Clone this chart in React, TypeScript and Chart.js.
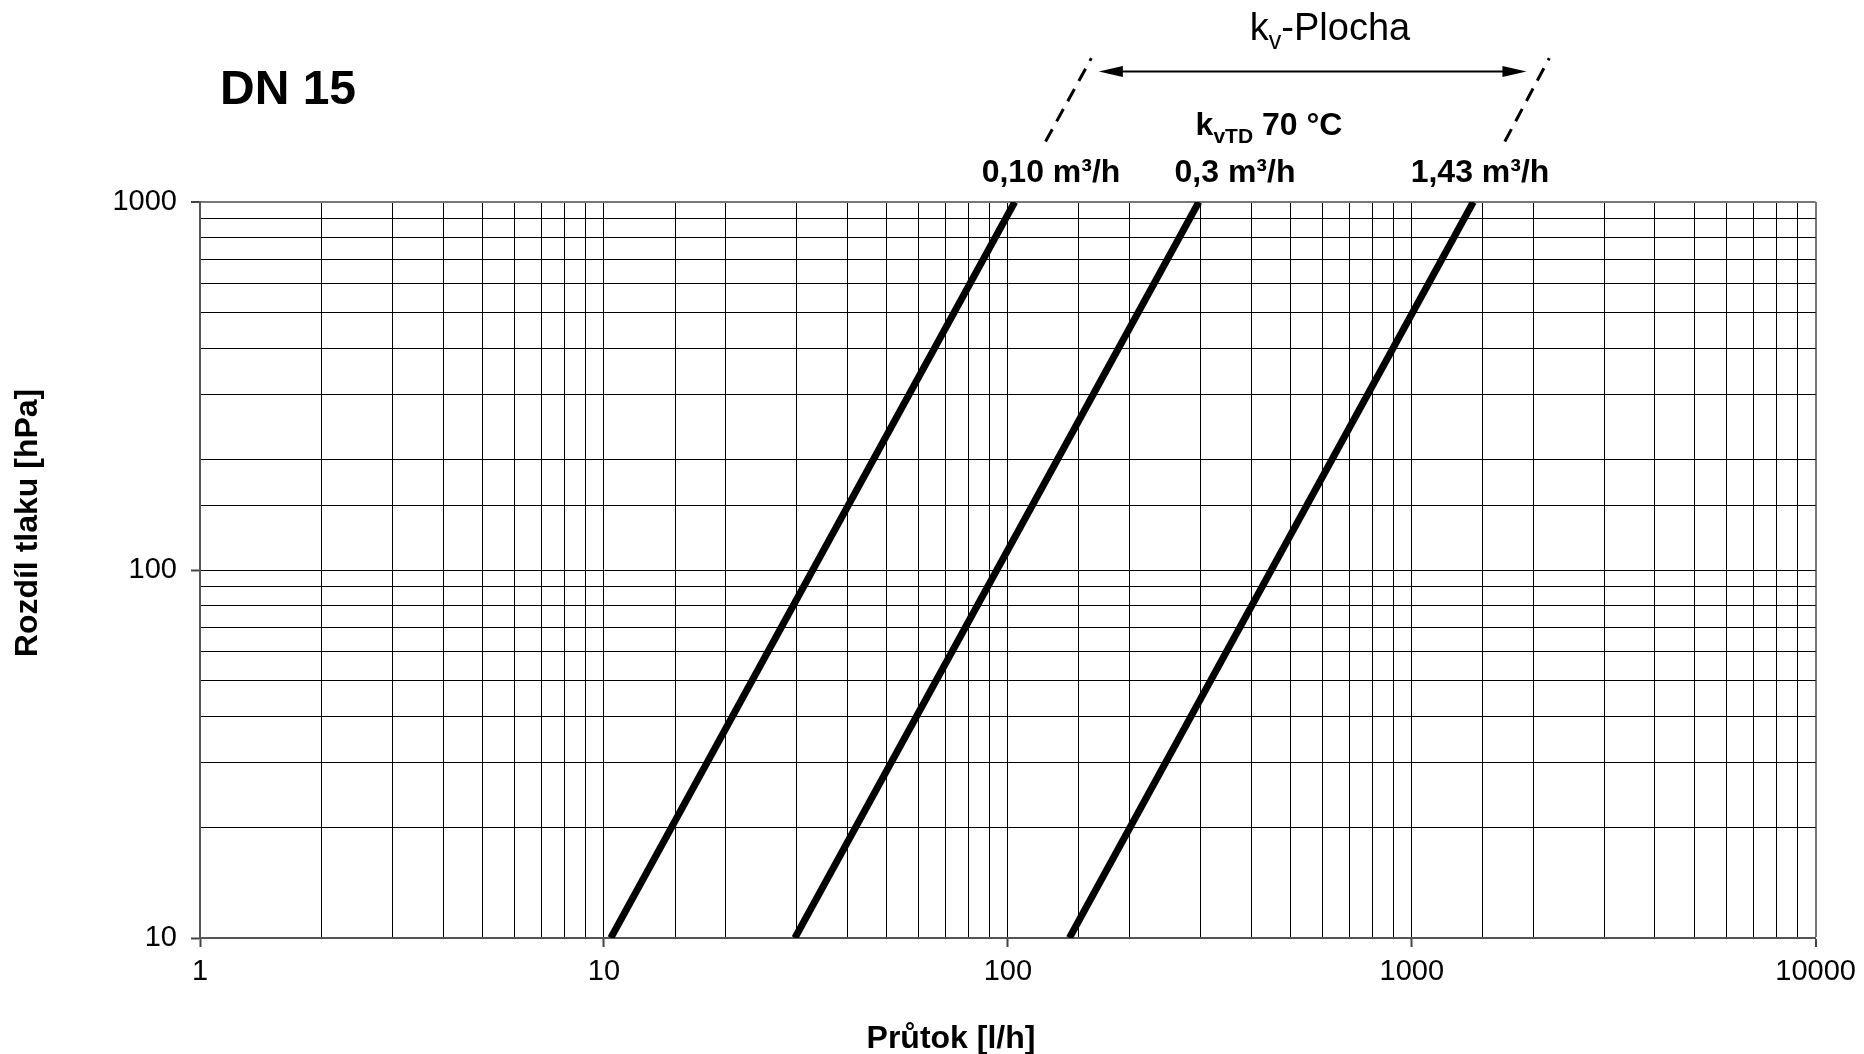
import React, { useEffect, useRef } from 'react';
import { Chart, registerables } from 'chart.js';

Chart.register(...registerables);

// ---- data ----
const pressureHPa = [10, 1000];
const flowKv010 = [10.4, 104];
const flowKv03 = [29.7, 297];
const flowKv143 = [142, 1420];
const extPressure = [1460, 2460];
const extFlowKv010 = [124, 161];
const extFlowKv143 = [1700, 2190];
const rangeArrowPressure = 2272;
const rangeArrowFlow = [168, 1923];
const kvLabels = ['0,10 m³/h', '0,3 m³/h', '1,43 m³/h'];
const xRange = [1, 10000];
const yRange = [10, 1000];
const titleText = 'DN 15';
const xTitle = 'Průtok [l/h]';
const yTitle = 'Rozdíl tlaku [hPa]';

const FONT = '"Liberation Sans", Arial, sans-serif';

const isPow10 = (v: number) => {
  const l = Math.log10(v);
  return Math.abs(l - Math.round(l)) < 1e-9;
};

const pts = (xs: number[], ys: number[]) => xs.map((x, i) => ({ x, y: ys[i] }));

type Part = { t: string; sub?: boolean };

function drawRich(ctx: CanvasRenderingContext2D, parts: Part[], cx: number, base: number, size: number, weight: string) {
  const subSize = Math.round(size * 0.66);
  const widths = parts.map((p) => {
    ctx.font = `${weight} ${p.sub ? subSize : size}px ${FONT}`;
    return ctx.measureText(p.t).width;
  });
  const total = widths.reduce((a, b) => a + b, 0);
  let xx = cx - total / 2;
  ctx.textAlign = 'left';
  ctx.textBaseline = 'alphabetic';
  parts.forEach((p, i) => {
    ctx.font = `${weight} ${p.sub ? subSize : size}px ${FONT}`;
    ctx.fillText(p.t, xx, base + (p.sub ? size * 0.24 : 0));
    xx += widths[i];
  });
}

const annotPlugin = {
  id: 'annot',
  afterDraw(chart: any) {
    const ctx: CanvasRenderingContext2D = chart.ctx;
    const xs = chart.scales.x;
    const ys = chart.scales.y;
    ctx.save();
    ctx.fillStyle = '#000';
    ctx.strokeStyle = '#000';

    // Title
    ctx.font = `bold 48px ${FONT}`;
    ctx.textAlign = 'left';
    ctx.textBaseline = 'alphabetic';
    ctx.fillText(titleText, 220, 104);

    // Axis titles
    ctx.font = `bold 32px ${FONT}`;
    ctx.textAlign = 'center';
    ctx.fillText(xTitle, 951, 1048);
    ctx.save();
    ctx.translate(37, 523);
    ctx.rotate(-Math.PI / 2);
    ctx.fillText(yTitle, 0, 0);
    ctx.restore();

    // kv labels
    const centers = [1051, 1235, 1480];
    ctx.font = `bold 32px ${FONT}`;
    ctx.textAlign = 'center';
    kvLabels.forEach((l, i) => ctx.fillText(l, centers[i], 182));

    drawRich(ctx, [{ t: 'k' }, { t: 'vTD', sub: true }, { t: ' 70 °C' }], 1269, 135, 32, 'bold');
    drawRich(ctx, [{ t: 'k' }, { t: 'v', sub: true }, { t: '-Plocha' }], 1330, 40, 38, 'normal');

    // range arrow
    const ay = Math.round(ys.getPixelForValue(rangeArrowPressure)) + 0.5;
    const ax1 = xs.getPixelForValue(rangeArrowFlow[0]);
    const ax2 = xs.getPixelForValue(rangeArrowFlow[1]);
    const head = 24;
    const hw = 5.5;
    ctx.lineWidth = 2;
    ctx.beginPath();
    ctx.moveTo(ax1 + head - 2, ay);
    ctx.lineTo(ax2 - head + 2, ay);
    ctx.stroke();
    ctx.beginPath();
    ctx.moveTo(ax1, ay);
    ctx.lineTo(ax1 + head, ay - hw);
    ctx.lineTo(ax1 + head, ay + hw);
    ctx.closePath();
    ctx.fill();
    ctx.beginPath();
    ctx.moveTo(ax2, ay);
    ctx.lineTo(ax2 - head, ay - hw);
    ctx.lineTo(ax2 - head, ay + hw);
    ctx.closePath();
    ctx.fill();
    ctx.restore();
  },
};

function gridOpts() {
  return {
    drawTicks: true,
    tickLength: 9,
    color: (c: any) => (c.index === c.scale.ticks.length - 1 ? '#777' : '#000'),
    lineWidth: (c: any) => (c.index === c.scale.ticks.length - 1 ? 2 : 1),
    tickColor: (c: any) => (c.tick && isPow10(c.tick.value) ? '#444' : 'rgba(0,0,0,0)'),
    tickWidth: 2,
  };
}

export default function App() {
  const ref = useRef<HTMLCanvasElement>(null);

  useEffect(() => {
    if (!ref.current) return;
    Chart.defaults.font.family = FONT;
    Chart.defaults.color = '#000';
    const solid = (data: any[]) => ({
      data,
      borderColor: '#000',
      borderWidth: 7,
      pointRadius: 0,
      fill: false,
      tension: 0,
    });
    const dashed = (data: any[]) => ({
      data,
      borderColor: '#000',
      borderWidth: 3,
      borderDash: [14, 9],
      pointRadius: 0,
      fill: false,
      tension: 0,
      clip: false,
    });
    const chart = new Chart(ref.current, {
      type: 'line',
      data: {
        datasets: [
          solid(pts(flowKv010, pressureHPa)),
          solid(pts(flowKv03, pressureHPa)),
          solid(pts(flowKv143, pressureHPa)),
          dashed(pts(extFlowKv010, extPressure)),
          dashed(pts(extFlowKv143, extPressure)),
        ] as any,
      },
      options: {
        animation: false,
        responsive: false,
        maintainAspectRatio: false,
        layout: { padding: { top: 202, right: 47, left: 0, bottom: 0 } },
        plugins: { legend: { display: false }, tooltip: { enabled: false }, title: { display: false } },
        scales: {
          x: {
            type: 'logarithmic',
            position: 'bottom',
            min: xRange[0],
            max: xRange[1],
            afterFit: (s: any) => {
              s.height = 116;
            },
            ticks: {
              autoSkip: false,
              maxRotation: 0,
              padding: 8,
              color: '#000',
              font: { size: 29, family: FONT },
              callback: (v: any) => (isPow10(Number(v)) ? String(Math.round(Number(v))) : ''),
            },
            grid: gridOpts() as any,
            border: { display: true, color: '#555', width: 2 },
          },
          y: {
            type: 'logarithmic',
            position: 'left',
            min: yRange[0],
            max: yRange[1],
            afterFit: (s: any) => {
              s.width = 200;
            },
            ticks: {
              autoSkip: false,
              padding: 14,
              color: '#000',
              font: { size: 29, family: FONT },
              callback: (v: any) => (isPow10(Number(v)) ? String(Math.round(Number(v))) : ''),
            },
            grid: gridOpts() as any,
            border: { display: true, color: '#555', width: 2 },
          },
        },
      } as any,
      plugins: [annotPlugin],
    });
    return () => chart.destroy();
  }, []);

  return (
    <div style={{ position: 'fixed', left: 0, top: 0, width: 1864, height: 1054, background: '#fff' }}>
      <canvas ref={ref} width={1864} height={1054} style={{ display: 'block', width: 1864, height: 1054 }} />
    </div>
  );
}
